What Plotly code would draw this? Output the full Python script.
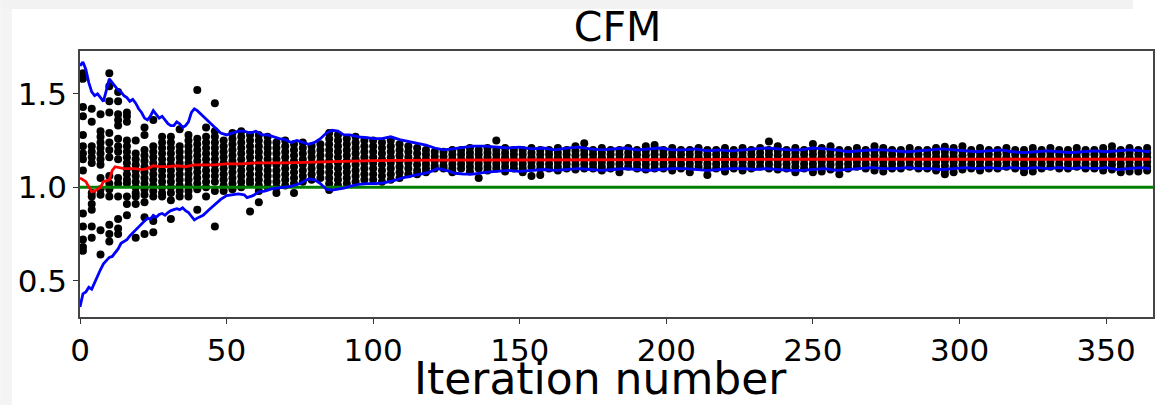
import plotly.graph_objects as go

# Sampled values: one column of samples every 3 iterations
iters = list(range(1, 365, 3))

early_samples = [
    [1.61, 1.58, 1.43, 1.38, 1.28, 1.22, 1.18, 1.15, 1.09, 0.86, 0.79, 0.72, 0.68, 0.66],
    [1.42, 1.35, 1.22, 1.19, 1.16, 1.13, 0.97, 0.95, 0.91, 0.88, 0.79, 0.73],
    [1.39, 1.30, 1.27, 1.24, 1.21, 1.18, 1.15, 1.12, 1.05, 0.99, 0.96, 0.77, 0.64],
    [1.61, 1.54, 1.46, 1.40, 1.29, 1.24, 1.20, 1.16, 1.06, 1.02, 0.99, 0.95, 0.80, 0.75, 0.71],
    [1.51, 1.46, 1.39, 1.36, 1.33, 1.26, 1.22, 1.19, 1.15, 1.05, 1.02, 0.95, 0.83, 0.78, 0.75],
    [1.40, 1.38, 1.35, 1.25, 1.22, 1.19, 1.16, 1.13, 1.10, 1.07, 1.04, 1.02, 0.95, 0.91, 0.85],
    [1.25, 1.18, 1.15, 1.12, 1.09, 1.06, 1.03, 1.00, 0.97, 0.95, 0.91, 0.73],
    [1.32, 1.28, 1.20, 1.17, 1.14, 1.11, 1.08, 1.05, 1.02, 0.99, 0.96, 0.92, 0.84, 0.75],
    [1.36, 1.22, 1.19, 1.16, 1.13, 1.10, 1.07, 1.04, 1.01, 0.98, 0.95, 0.82, 0.76],
    [1.27, 1.24, 1.21, 1.18, 1.15, 1.12, 1.09, 1.06, 1.03, 1.00, 0.97, 0.95],
    [1.27, 1.24, 1.21, 1.18, 1.15, 1.12, 1.09, 1.06, 1.03, 1.00, 0.97, 0.93, 0.83],
    [1.31, 1.22, 1.19, 1.16, 1.13, 1.10, 1.07, 1.04, 1.01, 0.98, 0.95],
    [1.28, 1.25, 1.22, 1.19, 1.16, 1.13, 1.10, 1.07, 1.04, 1.01, 0.98, 0.95],
    [1.52, 1.26, 1.23, 1.20, 1.17, 1.14, 1.11, 1.08, 1.05, 1.02, 0.99, 0.88],
]

mid_samples = [
    [1.32, 1.27, 1.24, 1.21, 1.18, 1.15, 1.12, 1.09, 1.06, 1.03, 1.00, 0.95],
    [1.45, 1.30, 1.27, 1.24, 1.21, 1.18, 1.15, 1.12, 1.09, 1.06, 1.03, 0.98, 0.79],
    [1.25, 1.22, 1.19, 1.16, 1.13, 1.10, 1.07, 1.04, 1.01, 0.98],
    [1.29, 1.26, 1.23, 1.20, 1.17, 1.14, 1.11, 1.08, 1.05, 1.02, 0.99],
    [1.30, 1.27, 1.24, 1.21, 1.18, 1.15, 1.12, 1.09, 1.06, 1.03, 1.00],
    [1.28, 1.25, 1.22, 1.19, 1.16, 1.13, 1.10, 1.07, 1.04, 1.02, 0.87],
    [1.28, 1.25, 1.22, 1.19, 1.16, 1.13, 1.10, 1.07, 1.04, 1.01, 0.98, 0.92],
    [1.27, 1.24, 1.21, 1.18, 1.15, 1.12, 1.09, 1.06, 1.03, 1.00],
    [1.24, 1.21, 1.18, 1.15, 1.12, 1.09, 1.06, 1.03, 1.00, 0.97],
    [1.25, 1.22, 1.19, 1.16, 1.13, 1.10, 1.07, 1.04, 1.01],
    [1.23, 1.20, 1.17, 1.14, 1.11, 1.08, 1.05, 1.02, 0.97],
    [1.24, 1.21, 1.18, 1.15, 1.12, 1.09, 1.06, 1.03],
    [1.22, 1.19, 1.16, 1.13, 1.10, 1.07, 1.04],
    [1.23, 1.20, 1.17, 1.14, 1.11, 1.08, 1.05],
    [1.29, 1.26, 1.23, 1.20, 1.17, 1.14, 1.11, 1.08, 1.05, 1.02, 0.985],
    [1.28, 1.25, 1.22, 1.19, 1.16, 1.13, 1.10, 1.07, 1.04, 1.01],
    [1.26, 1.23, 1.20, 1.17, 1.14, 1.11, 1.08, 1.05, 1.02],
    [1.27, 1.24, 1.21, 1.18, 1.15, 1.12, 1.09, 1.06, 1.03],
    [1.25, 1.22, 1.19, 1.16, 1.13, 1.10, 1.07, 1.04],
    [1.25, 1.22, 1.19, 1.16, 1.13, 1.10, 1.07, 1.04],
    [1.24, 1.21, 1.18, 1.15, 1.12, 1.09, 1.06, 1.03],
    [1.25, 1.22, 1.19, 1.16, 1.13, 1.10, 1.07, 1.04],
    [1.23, 1.20, 1.17, 1.14, 1.11, 1.08, 1.05],
    [1.22, 1.19, 1.16, 1.13, 1.10, 1.07],
    [1.21, 1.18, 1.15, 1.12, 1.09, 1.07],
    [1.20, 1.175, 1.15, 1.125, 1.10, 1.08],
    [1.19, 1.165, 1.14, 1.115, 1.10],
    [1.19, 1.165, 1.14, 1.115, 1.10],
]

late_samples = [
    [1.20, 1.175, 1.15, 1.125, 1.10, 1.08],
    [1.20, 1.175, 1.15, 1.125, 1.10],
    [1.21, 1.185, 1.16, 1.135, 1.11, 1.085],
    [1.20, 1.175, 1.15, 1.125, 1.10, 1.05],
    [1.21, 1.185, 1.16, 1.135, 1.11, 1.09],
    [1.25, 1.20, 1.175, 1.15, 1.125, 1.10],
    [1.21, 1.185, 1.16, 1.135, 1.11, 1.085],
    [1.20, 1.175, 1.15, 1.125, 1.10],
    [1.20, 1.175, 1.15, 1.125, 1.10, 1.08],
    [1.21, 1.185, 1.16, 1.135, 1.11, 1.06],
    [1.20, 1.175, 1.15, 1.125, 1.10, 1.065],
    [1.20, 1.175, 1.15, 1.125, 1.10],
    [1.21, 1.185, 1.16, 1.135, 1.11, 1.09],
    [1.20, 1.175, 1.15, 1.125, 1.10],
    [1.22, 1.195, 1.17, 1.145, 1.12, 1.095],
    [1.235, 1.20, 1.175, 1.15, 1.125, 1.10],
    [1.20, 1.175, 1.15, 1.125, 1.10],
    [1.21, 1.185, 1.16, 1.135, 1.11, 1.09],
    [1.20, 1.175, 1.15, 1.125, 1.10],
    [1.20, 1.175, 1.15, 1.125, 1.10, 1.08],
    [1.21, 1.185, 1.16, 1.135, 1.11],
    [1.20, 1.175, 1.15, 1.125, 1.10],
    [1.22, 1.195, 1.17, 1.145, 1.12, 1.095],
    [1.226, 1.20, 1.175, 1.15, 1.125, 1.10],
    [1.20, 1.175, 1.15, 1.125, 1.10],
    [1.21, 1.185, 1.16, 1.135, 1.11, 1.09],
    [1.20, 1.175, 1.15, 1.125, 1.10],
    [1.20, 1.175, 1.15, 1.125, 1.10, 1.08],
    [1.21, 1.185, 1.16, 1.135, 1.11],
    [1.20, 1.175, 1.15, 1.125, 1.10, 1.066],
    [1.20, 1.175, 1.15, 1.125, 1.10],
    [1.21, 1.185, 1.16, 1.135, 1.11, 1.085],
    [1.20, 1.175, 1.15, 1.125, 1.10],
    [1.21, 1.185, 1.16, 1.135, 1.11, 1.09],
    [1.20, 1.175, 1.15, 1.125, 1.10],
    [1.21, 1.185, 1.16, 1.135, 1.11],
    [1.245, 1.20, 1.175, 1.15, 1.125, 1.10],
    [1.22, 1.195, 1.17, 1.145, 1.12, 1.095],
    [1.20, 1.175, 1.15, 1.125, 1.10],
    [1.21, 1.185, 1.16, 1.135, 1.11, 1.08],
    [1.20, 1.175, 1.15, 1.125, 1.10],
    [1.232, 1.20, 1.175, 1.15, 1.125, 1.10, 1.08],
    [1.21, 1.185, 1.16, 1.135, 1.11, 1.085],
    [1.22, 1.195, 1.17, 1.145, 1.12, 1.095],
    [1.20, 1.175, 1.15, 1.125, 1.10, 1.07],
    [1.20, 1.175, 1.15, 1.125, 1.10],
    [1.21, 1.185, 1.16, 1.135, 1.11],
    [1.20, 1.175, 1.15, 1.125, 1.10],
    [1.22, 1.195, 1.17, 1.145, 1.12, 1.09],
    [1.21, 1.185, 1.16, 1.135, 1.11, 1.085],
    [1.20, 1.175, 1.15, 1.125, 1.10],
    [1.20, 1.175, 1.15, 1.125, 1.10],
    [1.21, 1.185, 1.16, 1.135, 1.11],
    [1.20, 1.175, 1.15, 1.125, 1.10],
    [1.20, 1.175, 1.15, 1.125, 1.10],
    [1.21, 1.185, 1.16, 1.135, 1.11, 1.09],
    [1.217, 1.19, 1.165, 1.14, 1.115, 1.09, 1.07],
    [1.21, 1.185, 1.16, 1.135, 1.11, 1.08],
    [1.22, 1.195, 1.17, 1.145, 1.12, 1.095],
    [1.20, 1.175, 1.15, 1.125, 1.10],
    [1.21, 1.185, 1.16, 1.135, 1.11, 1.09],
    [1.20, 1.175, 1.15, 1.125, 1.10],
    [1.20, 1.175, 1.15, 1.125, 1.10],
    [1.21, 1.185, 1.16, 1.135, 1.11],
    [1.20, 1.175, 1.15, 1.125, 1.10],
    [1.20, 1.175, 1.15, 1.125, 1.10, 1.08],
    [1.21, 1.185, 1.16, 1.135, 1.11, 1.085],
    [1.20, 1.175, 1.15, 1.125, 1.10],
    [1.21, 1.185, 1.16, 1.135, 1.11],
    [1.20, 1.175, 1.15, 1.125, 1.10],
    [1.20, 1.175, 1.15, 1.125, 1.10],
    [1.21, 1.185, 1.16, 1.135, 1.11],
    [1.20, 1.175, 1.15, 1.125, 1.10],
    [1.20, 1.175, 1.15, 1.125, 1.10],
    [1.21, 1.185, 1.16, 1.135, 1.11, 1.09],
    [1.22, 1.195, 1.17, 1.145, 1.12, 1.095],
    [1.20, 1.175, 1.15, 1.125, 1.10, 1.08],
    [1.21, 1.185, 1.16, 1.135, 1.11, 1.085],
    [1.20, 1.175, 1.15, 1.125, 1.10, 1.085],
    [1.21, 1.185, 1.16, 1.135, 1.11, 1.09],
]

# Upper / lower confidence envelope
upper_x = [0, 1, 2, 3, 4, 5, 6, 7, 8, 9, 10, 11, 12, 13, 14, 15, 16, 17, 18, 19,
           20, 21, 22, 23, 24, 25, 26, 27, 28, 29, 30, 31, 32, 33, 34, 35, 36, 37, 38, 39,
           40, 42, 44, 46, 48, 50, 52, 54, 56, 58, 60, 62, 64, 66, 68, 70, 72, 74, 76, 78,
           80, 82, 84, 86, 88, 90, 92, 95, 98, 100, 103, 106, 109, 112, 115, 118, 121, 124,
           127, 130, 134, 138, 142, 146, 150, 154, 158, 162, 166, 170, 174, 178, 182, 186,
           190, 194, 198, 202, 206, 210, 214, 218, 222, 226, 230, 234, 238, 242, 246, 250,
           254, 258, 262, 266, 270, 274, 278, 282, 286, 290, 294, 298, 302, 306, 310, 314,
           318, 322, 326, 330, 334, 338, 342, 346, 350, 354, 358, 362, 365]
upper_y = [1.65, 1.67, 1.63, 1.56, 1.51, 1.49, 1.50, 1.48, 1.46, 1.52, 1.58, 1.56, 1.54,
           1.52, 1.51, 1.49, 1.48, 1.46, 1.47, 1.45, 1.42, 1.40, 1.37, 1.36, 1.38, 1.41,
           1.39, 1.37, 1.38, 1.36, 1.34, 1.33, 1.33, 1.35, 1.34, 1.32, 1.33, 1.35, 1.40,
           1.42, 1.41, 1.38, 1.35, 1.32, 1.29, 1.28, 1.29, 1.30, 1.30, 1.29, 1.30, 1.28,
           1.28, 1.27, 1.26, 1.255, 1.24, 1.25, 1.24, 1.23, 1.24, 1.26, 1.29, 1.305, 1.30,
           1.28, 1.28, 1.27, 1.265, 1.26, 1.26, 1.27, 1.255, 1.245, 1.235, 1.225, 1.21,
           1.20, 1.205, 1.21, 1.22, 1.22, 1.215, 1.21, 1.215, 1.205, 1.21, 1.20, 1.21,
           1.215, 1.205, 1.20, 1.205, 1.21, 1.20, 1.205, 1.21, 1.20, 1.20, 1.205, 1.195,
           1.20, 1.195, 1.20, 1.205, 1.21, 1.205, 1.20, 1.20, 1.21, 1.205, 1.20, 1.19,
           1.195, 1.20, 1.20, 1.195, 1.19, 1.195, 1.20, 1.205, 1.20, 1.195, 1.19, 1.195,
           1.20, 1.19, 1.185, 1.19, 1.195, 1.19, 1.185, 1.19, 1.195, 1.19, 1.195, 1.20,
           1.195, 1.19]

lower_x = [0, 1, 2, 3, 4, 5, 6, 7, 8, 9, 10, 11, 12, 13, 14, 15, 16, 17, 18, 19,
           20, 21, 22, 23, 24, 25, 26, 27, 28, 29, 30, 31, 32, 33, 34, 35, 36, 37, 38, 39,
           40, 42, 44, 46, 48, 50, 52, 54, 56, 57, 59, 61, 63, 65, 67, 69, 72, 75, 78, 80,
           82, 84, 86, 88, 90, 92, 95, 98, 101, 104, 107, 110, 113, 116, 119, 122, 125, 128,
           131, 134, 138, 142, 146, 150, 154, 158, 162, 166, 170, 174, 178, 182, 186, 190,
           194, 198, 202, 206, 210, 214, 218, 222, 226, 230, 234, 238, 242, 246, 250, 254,
           258, 262, 266, 270, 274, 278, 282, 286, 290, 294, 298, 302, 306, 310, 314, 318,
           322, 326, 330, 334, 338, 342, 346, 350, 354, 358, 362, 365]
lower_y = [0.36, 0.43, 0.44, 0.465, 0.455, 0.49, 0.53, 0.56, 0.59, 0.61, 0.625, 0.63,
           0.65, 0.67, 0.70, 0.71, 0.72, 0.74, 0.755, 0.77, 0.79, 0.80, 0.82, 0.835, 0.83,
           0.85, 0.84, 0.855, 0.86, 0.85, 0.865, 0.875, 0.88, 0.885, 0.88, 0.89, 0.875,
           0.865, 0.845, 0.825, 0.835, 0.85, 0.88, 0.91, 0.935, 0.955, 0.96, 0.965, 0.96,
           0.945, 0.955, 0.975, 0.98, 0.99, 0.995, 1.0, 1.005, 1.02, 1.045, 1.04, 1.02,
           0.99, 0.985, 0.99, 0.995, 1.005, 1.015, 1.02, 1.02, 1.025, 1.035, 1.05, 1.06,
           1.07, 1.08, 1.10, 1.09, 1.075, 1.07, 1.07, 1.08, 1.085, 1.09, 1.085, 1.09,
           1.095, 1.09, 1.095, 1.10, 1.095, 1.09, 1.095, 1.10, 1.095, 1.09, 1.095, 1.10,
           1.10, 1.095, 1.09, 1.095, 1.10, 1.10, 1.095, 1.10, 1.095, 1.09, 1.09, 1.095,
           1.10, 1.09, 1.095, 1.10, 1.105, 1.10, 1.10, 1.105, 1.10, 1.10, 1.095, 1.10,
           1.105, 1.10, 1.105, 1.10, 1.105, 1.10, 1.105, 1.10, 1.105, 1.10, 1.105, 1.10,
           1.105, 1.095, 1.10, 1.105, 1.10]

# Running mean
mean_x = [0, 2, 4, 5, 7, 8, 10, 11, 12, 15, 17, 19, 21, 23, 25, 27, 30, 33, 36, 39,
          42, 46, 50, 55, 60, 70, 80, 90, 100, 120, 150, 200, 250, 300, 365]
mean_y = [1.05, 1.03, 0.975, 0.98, 1.00, 1.03, 1.04, 1.09, 1.11, 1.10, 1.10, 1.10,
          1.095, 1.10, 1.115, 1.11, 1.11, 1.115, 1.11, 1.12, 1.12, 1.12, 1.125, 1.125,
          1.13, 1.13, 1.135, 1.14, 1.143, 1.145, 1.147, 1.148, 1.15, 1.15, 1.15]

reference_level = 1.0

samples = early_samples + mid_samples + late_samples
dot_x = [it for it, col in zip(iters, samples) for _ in col]
dot_y = [v for col in samples for v in col]

font_family = "DejaVu Sans"

fig = go.Figure()
fig.add_trace(go.Scatter(
    x=dot_x, y=dot_y, mode="markers",
    marker=dict(color="black", size=8, line=dict(width=0)),
    showlegend=False, hoverinfo="skip",
))
fig.add_trace(go.Scatter(
    x=[0, 366], y=[reference_level, reference_level], mode="lines",
    line=dict(color="#008000", width=2.8), showlegend=False,
))
fig.add_trace(go.Scatter(
    x=upper_x, y=upper_y, mode="lines",
    line=dict(color="#0000ff", width=2.8), showlegend=False,
))
fig.add_trace(go.Scatter(
    x=lower_x, y=lower_y, mode="lines",
    line=dict(color="#0000ff", width=2.8), showlegend=False,
))
fig.add_trace(go.Scatter(
    x=mean_x, y=mean_y, mode="lines",
    line=dict(color="#ff0000", width=2.8), showlegend=False,
))

# light page edge along the top and left border
fig.add_shape(type="rect", xref="paper", yref="paper",
              x0=-0.0744, x1=0.9814, y0=1.158, y1=1.192,
              fillcolor="#f2f2f2", line=dict(width=0), layer="below")
fig.add_shape(type="rect", xref="paper", yref="paper",
              x0=-0.0744, x1=-0.0633, y0=-0.34, y1=1.158,
              fillcolor="#f4f4f4", line=dict(width=0), layer="below")

# x-axis caption, sitting on the bottom edge of the figure
fig.add_annotation(
    text="Iteration number", xref="paper", yref="paper",
    x=0.4855, y=-0.3308, xanchor="center", yanchor="bottom", showarrow=False,
    borderpad=0, font=dict(size=44, family=font_family, color="black"),
)

fig.update_layout(
    width=1162, height=405,
    margin=dict(l=80, r=7, t=51, b=88),
    paper_bgcolor="white", plot_bgcolor="white",
    font=dict(family=font_family, color="black"),
    title=dict(text="CFM", x=0.5315, xanchor="center", y=0.935, yanchor="middle",
               font=dict(size=41, family=font_family, color="black")),
)
fig.update_xaxes(
    range=[0, 366], tickvals=[0, 50, 100, 150, 200, 250, 300, 350],
    ticks="outside", ticklen=5, tickwidth=1.2, tickcolor="#333",
    showgrid=False, zeroline=False,
    showline=True, linecolor="#444", linewidth=1.5, mirror=True,
    tickfont=dict(size=31, family=font_family),
)
fig.update_yaxes(
    range=[0.306, 1.729], tickvals=[0.5, 1.0, 1.5], ticktext=["0.5", "1.0", "1.5"],
    ticks="outside", ticklen=5, tickwidth=1.2, tickcolor="#333",
    showgrid=False, zeroline=False,
    showline=True, linecolor="#444", linewidth=1.5, mirror=True,
    tickfont=dict(size=31, family=font_family),
)

fig.write_html("out.html")
